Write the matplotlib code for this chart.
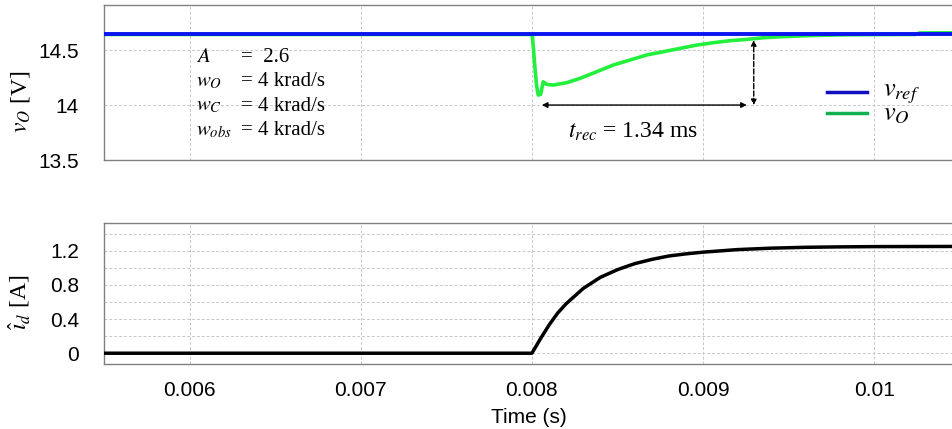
import matplotlib.pyplot as plt
from matplotlib.lines import Line2D

plt.rcParams['mathtext.fontset'] = 'stix'
plt.rcParams['font.family'] = 'Liberation Sans'

# reference voltage
vref_t = [0.0055, 0.01046]
vref_v = [14.642, 14.642]

# output voltage
vo_t = [0.0055, 0.0080, 0.008002, 0.008008, 0.008018, 0.008027, 0.008037,
        0.008051, 0.008066, 0.008086, 0.008124, 0.008202, 0.00828, 0.008378,
        0.008475, 0.008572, 0.008669, 0.008767, 0.008864, 0.008961, 0.009059,
        0.009156, 0.009253, 0.00935, 0.009448, 0.009545, 0.009642, 0.009837,
        0.010000, 0.010240, 0.010265, 0.01046]
vo_v = [14.642, 14.642, 14.636, 14.53, 14.333, 14.182, 14.091,
        14.097, 14.212, 14.188, 14.182, 14.203, 14.242, 14.303,
        14.364, 14.409, 14.455, 14.485, 14.515, 14.545, 14.567,
        14.585, 14.597, 14.612, 14.621, 14.627, 14.633, 14.639,
        14.641, 14.642, 14.656, 14.657]

# estimated d-axis current
id_t = [0.0055, 0.0080, 0.00805, 0.0081, 0.00815, 0.0082, 0.0083, 0.0084,
        0.0085, 0.0086, 0.0087, 0.0088, 0.0089, 0.0090, 0.0092, 0.0094,
        0.0096, 0.0098, 0.0100, 0.01046]
id_v = [0.0, 0.0, 0.17, 0.33, 0.47, 0.58, 0.76, 0.89,
        0.98, 1.05, 1.10, 1.14, 1.165, 1.185, 1.215, 1.232,
        1.242, 1.247, 1.25, 1.252]

xticks = [0.006, 0.007, 0.008, 0.009, 0.01]
xtick_labels = ['0.006', '0.007', '0.008', '0.009', '0.01']
vticks = [13.5, 14, 14.5]
vtick_labels = ['13.5', '14', '14.5']
iticks = [0, 0.4, 0.8, 1.2]
itick_labels = ['0', '0.4', '0.8', '1.2']
iminor = [0.2, 0.6, 1.0, 1.4]

params = [('$A$', '=  2.6'), ('$w_O$', '= 4 krad/s'),
          ('$w_C$', '= 4 krad/s'), ('$w_{obs}$', '= 4 krad/s')]

fig = plt.figure(figsize=(9.53, 4.29), dpi=100)
ax1 = fig.add_axes([0.1091, 0.627, 0.8909, 0.3613])
ax2 = fig.add_axes([0.1091, 0.1508, 0.8909, 0.330])

grid_kw = dict(color='#c8c8c8', linestyle=(0, (3, 2)), linewidth=0.7)
for ax in (ax1, ax2):
    ax.set_xlim(0.0055, 0.01046)
    ax.set_xticks(xticks)
    ax.tick_params(axis='y', length=0, labelsize=15, pad=18)
    ax.tick_params(axis='x', length=0, labelsize=15, pad=12)
    for s in ('top', 'left', 'bottom'):
        ax.spines[s].set_color('#808080')
        ax.spines[s].set_linewidth(1.0)
    ax.spines['right'].set_visible(False)
    ax.grid(True, which='major', **grid_kw)
    ax.set_axisbelow(True)

# top: voltage
ax1.plot(vo_t, vo_v, color='#22f03c', linewidth=2.6, zorder=2)
ax1.plot(vref_t, vref_v, color='#0a14f0', linewidth=2.8, zorder=3)
ax1.set_ylim(13.5, 14.91)
ax1.set_yticks(vticks)
ax1.set_yticklabels(vtick_labels)
ax1.set_xticklabels([])
ax1.set_ylabel('$v_O$ [V]', family='Liberation Serif', fontsize=17)
ax1.yaxis.set_label_coords(-0.085, 0.374)

for k, (name, val) in enumerate(params):
    y = 14.43 - k * 0.22
    ax1.text(0.006035, y, name, fontsize=15, ha='left', va='center',
             family='Liberation Serif')
    ax1.text(0.0063, y, val, fontsize=15, ha='left', va='center',
             family='Liberation Serif')

ax1.annotate('', xy=(0.009255, 14.0), xytext=(0.008058, 14.0),
             arrowprops=dict(arrowstyle='<|-|>', color='black', lw=1.0,
                             mutation_scale=8, shrinkA=0, shrinkB=0))
ax1.annotate('', xy=(0.009296, 14.59), xytext=(0.009296, 14.0),
             arrowprops=dict(arrowstyle='<|-|>', color='black', lw=1.0,
                             linestyle='--', mutation_scale=8,
                             shrinkA=0, shrinkB=0))
ax1.text(0.00859, 13.755, '$t_{rec}$ = 1.34 ms', fontsize=17, ha='center',
         va='center', family='Liberation Serif')

# legend drawn by hand to match the tight spacing
leg = [('$v_{ref}$', '#1010c0', 0.4387, 0.425),
       ('$v_O$', '#10b050', 0.3032, 0.29)]
for label, col, yl, yt in leg:
    ax1.add_line(Line2D([0.8516, 0.8987], [yl, yl], color=col, linewidth=2.5,
                        transform=ax1.transAxes))
    ax1.text(0.9176, yt, label, fontsize=19, ha='left', va='center',
             transform=ax1.transAxes, family='Liberation Serif')

# bottom: current
ax2.plot(id_t, id_v, color='black', linewidth=2.5, zorder=3)
ax2.set_ylim(-0.13, 1.53)
ax2.set_yticks(iticks)
ax2.set_yticklabels(itick_labels)
ax2.set_yticks(iminor, minor=True)
ax2.tick_params(which='minor', length=0)
ax2.grid(True, which='minor', axis='y', **grid_kw)
ax2.set_xticklabels(xtick_labels)
ax2.set_ylabel(r'$\hat{\imath}_d$ [A]', family='Liberation Serif', fontsize=17)
ax2.yaxis.set_label_coords(-0.085, 0.44)
ax2.set_xlabel('Time (s)', fontsize=15, labelpad=6)

fig.savefig('out.png', dpi=100)
